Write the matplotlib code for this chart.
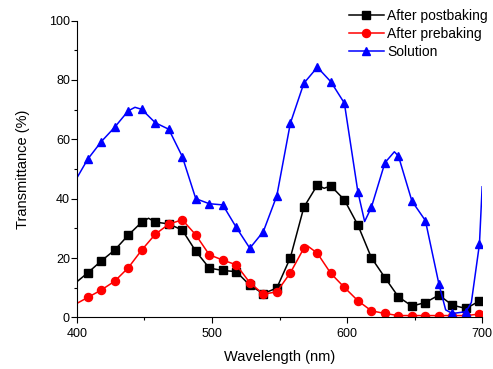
import matplotlib
matplotlib.use("Agg")
import matplotlib.pyplot as plt

plt.rcParams["font.family"] = ["Liberation Sans", "DejaVu Sans"]

# wavelengths where the symbols sit
marker_wl = [408, 418, 428, 438, 448, 458, 468, 478, 488, 498,
             508, 518, 528, 538, 548, 558, 568, 578, 588, 598,
             608, 618, 628, 638, 648, 658, 668, 678, 688, 698]

# line data (symbol points plus a few extra readings along the curve)
post_wl = [400, 408, 418, 428, 438, 448, 453, 458, 468, 478, 488, 498,
           508, 518, 528, 538, 548, 558, 568, 578, 583, 588, 598,
           608, 618, 628, 638, 648, 658, 668, 678, 688, 698, 700]
post_t = [12.0, 15.0, 19.0, 22.7, 27.7, 32.1, 33.4, 32.1, 31.5, 29.4, 22.3, 16.6,
          15.8, 15.4, 10.8, 8.0, 9.9, 20.1, 37.1, 44.6, 43.5, 44.3, 39.6,
          31.1, 20.1, 13.4, 6.9, 3.8, 5.0, 7.5, 4.1, 3.0, 5.5, 6.5]

pre_wl = [400, 408, 418, 428, 438, 448, 458, 468, 478, 488, 498,
          508, 518, 528, 538, 548, 558, 568, 571, 578, 588, 598,
          608, 618, 628, 638, 648, 658, 668, 678, 688, 698, 700]
pre_t = [4.7, 6.7, 9.2, 12.2, 16.7, 22.7, 28.0, 31.4, 32.9, 27.8, 21.1,
         19.3, 17.7, 11.7, 7.8, 8.6, 15.0, 23.3, 24.0, 21.6, 14.8, 10.1,
         5.6, 2.2, 1.3, 0.6, 0.6, 0.6, 0.6, 0.6, 0.6, 1.1, 1.3]

sol_wl = [400, 408, 418, 428, 438, 443, 448, 458, 468, 478, 488, 498,
          508, 518, 528, 538, 548, 558, 568, 578, 588, 598,
          608, 613, 618, 628, 635, 638, 648, 658, 668, 673, 678, 688, 692, 698, 700]
sol_t = [47.0, 53.3, 59.2, 64.1, 69.6, 70.8, 70.1, 65.6, 63.4, 54.2, 40.0, 38.3,
         37.9, 30.3, 23.3, 28.9, 41.0, 65.4, 78.9, 84.3, 79.4, 72.2,
         42.3, 32.3, 37.1, 52.1, 55.8, 54.4, 39.2, 32.6, 11.2, 2.5, 1.3, 1.9, 5.0, 24.7, 44.0]


def marks(wl):
    return [i for i, w in enumerate(wl) if w in marker_wl]


fig = plt.figure(figsize=(4.93, 3.69), dpi=100)
ax = fig.add_axes([0.156, 0.140, 0.822, 0.804])

ax.plot(post_wl, post_t, color="black", lw=1.1, marker="s", ms=5.4,
        markevery=marks(post_wl), label="After postbaking")
ax.plot(pre_wl, pre_t, color="#ff0000", lw=1.1, marker="o", ms=5.8,
        markevery=marks(pre_wl), label="After prebaking")
ax.plot(sol_wl, sol_t, color="#0000ff", lw=1.1, marker="^", ms=6.4,
        markevery=marks(sol_wl), label="Solution")

ax.set_xlim(400, 700)
ax.set_ylim(0, 100)
ax.set_xticks([400, 500, 600, 700])
ax.set_xticks([450, 550, 650], minor=True)
ax.set_yticks([0, 20, 40, 60, 80, 100])
ax.set_yticks([10, 30, 50, 70, 90], minor=True)
ax.tick_params(which="major", length=4, width=0.8, labelsize=9)
ax.tick_params(which="minor", length=2.2, width=0.8)
ax.tick_params(axis="y", which="major", pad=1)
ax.tick_params(axis="x", which="major", pad=4)
for s in ["top", "right"]:
    ax.spines[s].set_visible(False)

ax.set_xlabel("Wavelength (nm)", fontsize=10.5, labelpad=7)
ax.set_ylabel("Transmittance (%)", fontsize=10.5, labelpad=14)

ax.legend(loc="upper left", bbox_to_anchor=(349 / 493, 1 - 9 / 369),
          bbox_transform=fig.transFigure, frameon=False, fontsize=10,
          borderpad=0, borderaxespad=0, handlelength=2.5, handletextpad=0.25,
          labelspacing=0.3)

fig.savefig("out.png", dpi=100)
